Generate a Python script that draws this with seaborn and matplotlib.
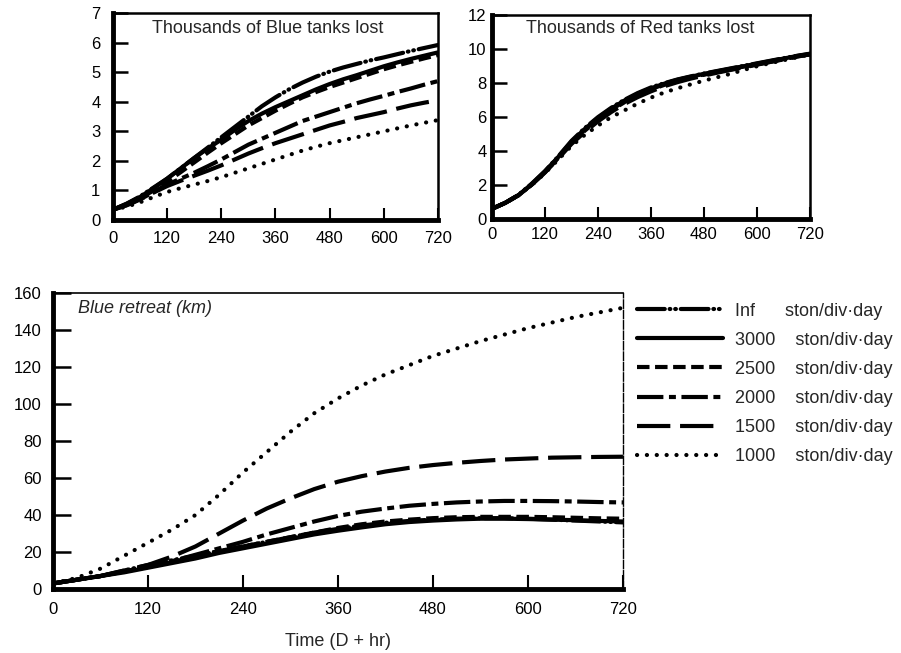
import seaborn as sns
import matplotlib.pyplot as plt
from matplotlib.lines import Line2D

# time axis (D + hr), read every 30 hours
hours = [0, 30, 60, 90, 120, 150, 180, 210, 240, 270, 300, 330, 360,
         390, 420, 450, 480, 510, 540, 570, 600, 630, 660, 690, 720]
supply = ['inf', '3000', '2500', '2000', '1500', '1000']
legend_labels = ['Inf      ston/div·day', '3000    ston/div·day', '2500    ston/div·day',
                 '2000    ston/div·day', '1500    ston/div·day', '1000    ston/div·day']

# Thousands of Blue tanks lost
blue_inf = [0.35, 0.55, 0.8, 1.1, 1.4, 1.75, 2.1, 2.45, 2.8, 3.15, 3.5, 3.85, 4.15,
            4.42, 4.65, 4.85, 5.02, 5.16, 5.28, 5.4, 5.5, 5.61, 5.72, 5.82, 5.92]
blue_3000 = [0.35, 0.55, 0.78, 1.08, 1.4, 1.75, 2.1, 2.42, 2.72, 3.05, 3.35, 3.6, 3.82,
             4.02, 4.22, 4.42, 4.6, 4.76, 4.9, 5.05, 5.2, 5.33, 5.45, 5.56, 5.67]
blue_2500 = [0.35, 0.53, 0.74, 1.0, 1.3, 1.62, 1.95, 2.28, 2.6, 2.9, 3.2, 3.45, 3.7,
             3.93, 4.15, 4.33, 4.5, 4.65, 4.8, 4.95, 5.1, 5.23, 5.35, 5.47, 5.58]
blue_2000 = [0.35, 0.5, 0.7, 0.95, 1.2, 1.4, 1.6, 1.82, 2.05, 2.3, 2.55, 2.75, 2.95,
             3.15, 3.35, 3.5, 3.65, 3.8, 3.95, 4.08, 4.2, 4.33, 4.45, 4.58, 4.7]
blue_1500 = [0.35, 0.5, 0.7, 0.93, 1.15, 1.33, 1.5, 1.67, 1.85, 2.05, 2.25, 2.43, 2.6,
             2.75, 2.9, 3.05, 3.2, 3.32, 3.45, 3.55, 3.65, 3.77, 3.88, 3.97, 4.05]
blue_1000 = [0.35, 0.45, 0.6, 0.78, 0.95, 1.08, 1.2, 1.32, 1.45, 1.6, 1.75, 1.9, 2.05,
             2.2, 2.35, 2.48, 2.6, 2.7, 2.8, 2.9, 3.0, 3.1, 3.2, 3.29, 3.38]

# Thousands of Red tanks lost
red_inf = [0.6, 0.95, 1.42, 2.08, 2.82, 3.68, 4.6, 5.35, 6.0, 6.55, 7.02, 7.42, 7.75,
           8.0, 8.22, 8.4, 8.57, 8.72, 8.87, 9.02, 9.17, 9.32, 9.47, 9.61, 9.74]
red_3000 = [0.6, 0.95, 1.4, 2.05, 2.8, 3.65, 4.55, 5.3, 5.95, 6.5, 6.98, 7.38, 7.7,
            7.97, 8.2, 8.38, 8.55, 8.7, 8.85, 9.0, 9.15, 9.3, 9.45, 9.6, 9.72]
red_2500 = [0.6, 0.95, 1.4, 2.04, 2.78, 3.62, 4.5, 5.25, 5.9, 6.45, 6.93, 7.33, 7.66,
            7.93, 8.16, 8.35, 8.52, 8.68, 8.83, 8.98, 9.13, 9.28, 9.43, 9.58, 9.71]
red_2000 = [0.6, 0.95, 1.4, 2.03, 2.76, 3.6, 4.47, 5.2, 5.85, 6.4, 6.88, 7.28, 7.62,
            7.9, 8.13, 8.32, 8.5, 8.66, 8.81, 8.96, 9.11, 9.26, 9.42, 9.57, 9.7]
red_1500 = [0.6, 0.95, 1.4, 2.02, 2.74, 3.56, 4.42, 5.12, 5.75, 6.3, 6.78, 7.18, 7.52,
            7.82, 8.06, 8.27, 8.45, 8.62, 8.78, 8.93, 9.09, 9.25, 9.4, 9.56, 9.7]
red_1000 = [0.6, 0.95, 1.4, 2.0, 2.7, 3.5, 4.3, 4.95, 5.5, 6.0, 6.4, 6.8, 7.15,
            7.45, 7.7, 7.93, 8.15, 8.35, 8.55, 8.78, 9.0, 9.18, 9.35, 9.52, 9.7]

# Blue retreat (km)
retreat_inf = [3, 5, 7, 10, 13, 15.5, 18, 20.5, 23, 25.5, 28, 30.5, 32.5,
               34.3, 35.8, 36.8, 37.5, 38, 38.3, 38.3, 38, 37.5, 37, 36.5, 36]
retreat_3000 = [3, 5, 7, 9, 11.5, 14, 16.5, 19.5, 22, 24.5, 27, 29.5, 31.5,
                33.3, 35, 36.2, 37, 37.6, 38, 38, 37.8, 37.5, 37.2, 36.8, 36.5]
retreat_2500 = [3, 5, 7, 9.5, 12, 14.5, 17.5, 20.5, 23, 25.5, 28, 30.5, 33,
                35, 36.5, 37.5, 38.3, 38.8, 39, 39, 39, 38.8, 38.5, 38.2, 38]
retreat_2000 = [3, 5, 7, 9.5, 12, 15, 18.5, 22, 25.5, 29.5, 33, 36.5, 39.5,
                41.8, 43.5, 45, 46, 46.8, 47.3, 47.6, 47.6, 47.5, 47.3, 47, 46.8]
retreat_1500 = [3, 5, 7, 10, 13, 17.5, 23, 30, 37, 43.5, 49, 54, 58,
                61, 63.5, 65.5, 67, 68.2, 69.2, 70, 70.5, 71, 71.2, 71.4, 71.5]
retreat_1000 = [3, 6, 11, 18, 25, 32, 40, 51, 63, 74, 85, 95, 103,
                110, 116, 121, 126, 130, 134, 137.5, 141, 144, 147, 149.5, 152]

sns.set_style('ticks')
plt.rcParams['font.family'] = ['Liberation Sans', 'DejaVu Sans']
plt.rcParams['lines.scale_dashes'] = False

# line styles (dash lengths in points)
style_map = {
    'inf': (0, (20, 3.5, 0.5, 3.5, 0.5, 3.5)),
    '3000': '-',
    '2500': (0, (9, 4)),
    '2000': (0, (19, 4, 5, 4)),
    '1500': (0, (24, 7)),
    '1000': (0, (0.1, 7)),
}
cap_map = {'inf': 'round', '3000': 'round', '2500': 'butt', '2000': 'butt',
           '1500': 'butt', '1000': 'round'}
LW = 3.0
TICK_FS = 12
TEXT_FS = 13

fig = plt.figure(figsize=(9.01, 6.53), dpi=100)
ax_blue = fig.add_axes([0.1254, 0.663, 0.3607, 0.317])
ax_red = fig.add_axes([0.546, 0.6646, 0.353, 0.312])
ax_ret = fig.add_axes([0.0588, 0.098, 0.6326, 0.4533])

panels = [
    (ax_blue, [blue_inf, blue_3000, blue_2500, blue_2000, blue_1500, blue_1000]),
    (ax_red, [red_inf, red_3000, red_2500, red_2000, red_1500, red_1000]),
    (ax_ret, [retreat_inf, retreat_3000, retreat_2500, retreat_2000, retreat_1500, retreat_1000]),
]
for ax, series in panels:
    for name, vals in zip(supply, series):
        sns.lineplot(x=hours, y=vals, color='black', linewidth=LW,
                     linestyle=style_map[name], dash_capstyle=cap_map[name],
                     solid_capstyle='round', ax=ax)
    ax.set_xlim(0, 720)
    ax.set_xticks(range(0, 721, 120))
    ax.tick_params(axis='both', direction='in', labelsize=TICK_FS, colors='black')

# top left
ax_blue.set_ylim(0, 7)
ax_blue.set_yticks(range(0, 8))
ax_blue.tick_params(axis='x', length=9, width=1.5, pad=8)
ax_blue.tick_params(axis='y', length=11, width=1.8, pad=9)
ax_blue.text(0.475, 0.927, 'Thousands of Blue tanks lost', transform=ax_blue.transAxes,
             ha='center', va='center', fontsize=TEXT_FS)

# top right
ax_red.set_ylim(0, 12)
ax_red.set_yticks(range(0, 13, 2))
ax_red.tick_params(axis='x', length=9, width=1.5, pad=6)
ax_red.tick_params(axis='y', length=11, width=1.8, pad=4)
ax_red.text(0.465, 0.936, 'Thousands of Red tanks lost', transform=ax_red.transAxes,
            ha='center', va='center', fontsize=TEXT_FS)

# bottom
ax_ret.set_ylim(0, 160)
ax_ret.set_yticks(range(0, 161, 20))
ax_ret.tick_params(axis='x', length=10, width=1.5, pad=9)
ax_ret.tick_params(axis='y', length=13, width=1.8, pad=8)
ax_ret.text(0.044, 0.949, 'Blue retreat (km)', transform=ax_ret.transAxes,
            ha='left', va='center', fontsize=TEXT_FS, style='italic')
ax_ret.set_xlabel('Time (D + hr)', fontsize=TEXT_FS, labelpad=12)

for ax in [ax_blue, ax_red, ax_ret]:
    ax.spines['left'].set_linewidth(3.5)
    ax.spines['bottom'].set_linewidth(3.5)
    ax.spines['top'].set_linewidth(1.8)
    ax.spines['right'].set_linewidth(1.8)
    for s in ax.spines.values():
        s.set_color('black')
ax_ret.spines['top'].set_linewidth(1.2)
ax_ret.spines['right'].set_linewidth(1.0)
ax_ret.spines['right'].set_linestyle((0, (6, 1.5)))

handles = [Line2D([], [], color='black', linewidth=LW, linestyle=style_map[s],
                  dash_capstyle=cap_map[s]) for s in supply]
fig.legend(handles, legend_labels, loc='upper left', bbox_to_anchor=(0.707, 0.5367),
           bbox_transform=fig.transFigure, frameon=False, fontsize=TEXT_FS,
           handlelength=4.75, handletextpad=0.66, labelspacing=0.67, borderpad=0,
           borderaxespad=0)

fig.savefig('out.png', dpi=100)
